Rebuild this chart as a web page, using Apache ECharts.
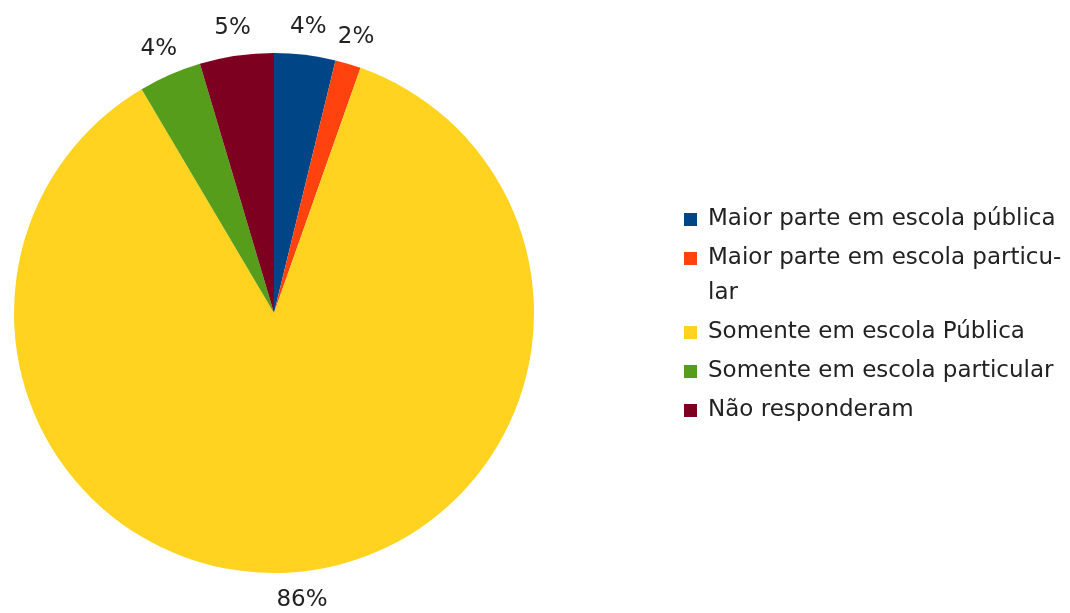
<!DOCTYPE html>
<html>
<head>
<meta charset="utf-8">
<script src="https://cdn.jsdelivr.net/npm/echarts@6/dist/echarts.min.js"></script>
<style>
  html, body { margin: 0; padding: 0; background: #ffffff; }
  #chart { width: 1070px; height: 613px; }
</style>
</head>
<body>
<div id="chart"></div>
<script>
// Categories (legend order = slice order, clockwise from 12 o'clock)
const categories = [
  'Maior parte em escola pública',
  'Maior parte em escola particular',
  'Somente em escola Pública',
  'Somente em escola particular',
  'Não responderam'
];
// Share of respondents (%)
const values = [3.8, 1.6, 86.1, 3.9, 4.6];
// Slice colours
const colors = ['#004586', '#ff420e', '#ffd320', '#579d1c', '#7e0021'];
// Legend label as wrapped in the reference (first line aligned with the icon)
const legendLabels = {
  'Maior parte em escola particular': '{a|Maior parte em escola particu-}\n{b|lar}'
};

const FONT = 'DejaVu Sans';
const TEXT = '#222222';

const pieData = categories.map((c, i) => ({ name: c, value: values[i], itemStyle: { color: colors[i] } }));
const ringData = categories.map((c, i) => ({ name: c, value: values[i] }));

const chart = echarts.init(document.getElementById('chart'), null, { renderer: 'canvas' });
chart.setOption({
  backgroundColor: '#ffffff',
  animation: false,
  legend: {
    orient: 'vertical',
    left: 679,
    top: 203,
    itemWidth: 25,
    itemHeight: 13,
    itemGap: 16,
    icon: 'path://M0,0H10V10H0Z',
    symbolKeepAspect: true,
    selectedMode: false,
    textStyle: {
      fontFamily: FONT, fontSize: 23, color: TEXT,
      rich: {
        a: { fontFamily: FONT, fontSize: 23, color: TEXT, lineHeight: 35 },
        b: { fontFamily: FONT, fontSize: 23, color: TEXT, lineHeight: 0, verticalAlign: 'top', padding: [6, 0, 0, 0] }
      }
    },
    data: categories,
    formatter: name => legendLabels[name] || name
  },
  series: [
    {
      type: 'pie',
      center: [274, 313],
      radius: 260,
      startAngle: 90,
      clockwise: true,
      label: { show: false },
      labelLine: { show: false },
      itemStyle: { borderWidth: 0 },
      emphasis: { disabled: true },
      data: pieData
    },
    {
      type: 'pie',
      center: [274, 313],
      radius: [260, 310],
      startAngle: 90,
      clockwise: true,
      silent: true,
      legendHoverLink: false,
      itemStyle: { color: 'rgba(0,0,0,0)', borderWidth: 0 },
      label: {
        show: true,
        position: 'inside',
        fontFamily: FONT,
        fontSize: 23,
        color: TEXT,
        formatter: p => Math.round(p.percent) + '%'
      },
      labelLine: { show: false },
      emphasis: { disabled: true },
      data: ringData
    }
  ]
});
</script>
</body>
</html>
